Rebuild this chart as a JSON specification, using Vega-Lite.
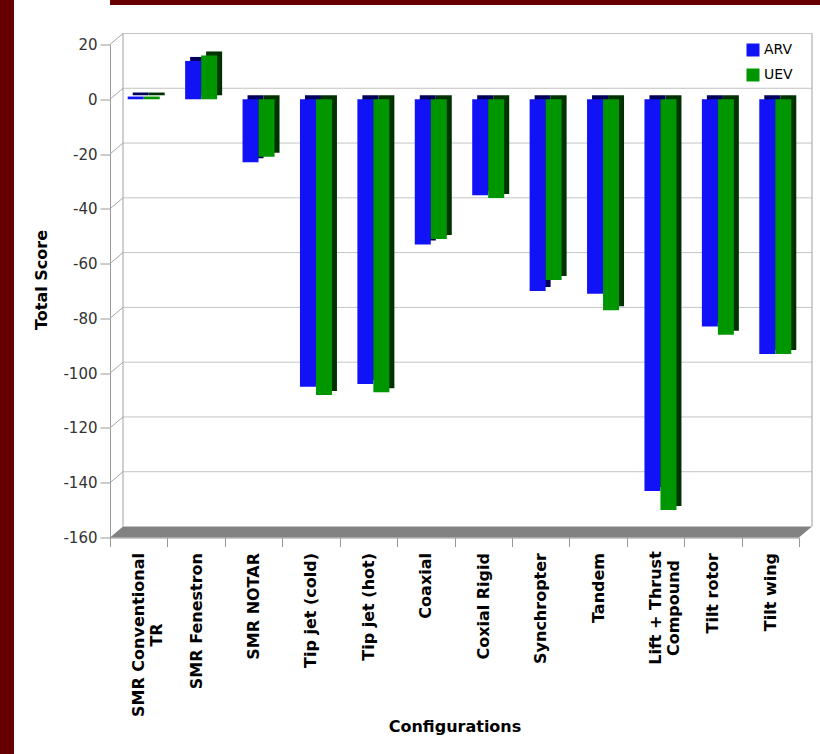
{
  "$schema": "https://vega.github.io/schema/vega-lite/v6.json",
  "background": "white",
  "padding": 0,
  "spacing": 19,
  "config": {"view": {"stroke": null}, "font": "DejaVu Sans"},
  "hconcat": [
    {
      "width": 14, "height": 754,
      "view": {"fill": "#660000", "stroke": null},
      "data": {"values": [{"a": 1}]},
      "mark": {"type": "rect", "opacity": 0},
      "encoding": {}
    },
    {
      "spacing": 27.5,
      "vconcat": [
        {
          "width": 720, "height": 5,
          "view": {"fill": "#660000", "stroke": null},
          "data": {"values": [{"a": 1}]},
          "mark": {"type": "rect", "opacity": 0},
          "encoding": {}
        },
        {
          "width": 689, "height": 493,
          "resolve": {"scale": {"x": "independent"}},
          "layer": [
            {
              "data": {"values": [{"g": 20}, {"g": 0}, {"g": -20}, {"g": -40}, {"g": -60}, {"g": -80}, {"g": -100}, {"g": -120}, {"g": -140}]},
              "layer": [
                {
                  "mark": {"type": "rule", "color": "#c4c4c4", "strokeWidth": 1, "xOffset": 13, "x2Offset": 13, "yOffset": -11},
                  "encoding": {
                    "x": {"datum": 0, "type": "quantitative", "scale": {"domain": [0, 1], "nice": false, "zero": false}, "axis": null},
                    "x2": {"datum": 1},
                    "y": {"field": "g", "type": "quantitative", "title": "Total Score", "scale": {"domain": [-160, 20], "nice": false}}
                  }
                },
                {
                  "mark": {"type": "rule", "color": "#a8a8a8", "strokeWidth": 1, "x2Offset": 13, "y2Offset": -11},
                  "encoding": {
                    "x": {"datum": 0, "type": "quantitative", "scale": {"domain": [0, 1], "nice": false, "zero": false}, "axis": null},
                    "x2": {"datum": 0},
                    "y": {"field": "g", "type": "quantitative", "title": "Total Score", "scale": {"domain": [-160, 20], "nice": false}},
                    "y2": {"field": "g"}
                  }
                }
              ]
            },
            {
              "data": {"values": [{"e": 0}, {"e": 1}]},
              "mark": {"type": "rule", "color": "#a0a0a0", "strokeWidth": 1, "xOffset": 13, "yOffset": -11, "y2Offset": -11},
              "encoding": {
                "x": {"field": "e", "type": "quantitative", "scale": {"domain": [0, 1], "nice": false, "zero": false}, "axis": null},
                "y": {"datum": 20, "type": "quantitative", "title": "Total Score", "scale": {"domain": [-160, 20], "nice": false}},
                "y2": {"datum": -160}
              }
            },
            {
              "data": {"values": [{"f": 1}]},
              "mark": {"type": "point", "shape": "M-1,0.01567L-0.963,-0.01567L1,-0.01567L0.963,0.01567Z", "size": 492804, "filled": true, "color": "#828282", "opacity": 1, "strokeWidth": 0, "xOffset": 6.5, "yOffset": -5.5},
              "encoding": {
                "x": {"datum": 0.5, "type": "quantitative", "scale": {"domain": [0, 1], "nice": false, "zero": false}, "axis": null},
                "y": {"datum": -160, "type": "quantitative", "title": "Total Score", "scale": {"domain": [-160, 20], "nice": false}}
              }
            },
            {
              "data": {"values": [
                {"Configuration": "SMR Conventional TR", "Series": "ARV", "Score": 1},
                {"Configuration": "SMR Conventional TR", "Series": "UEV", "Score": 1},
                {"Configuration": "SMR Fenestron", "Series": "ARV", "Score": 14},
                {"Configuration": "SMR Fenestron", "Series": "UEV", "Score": 16},
                {"Configuration": "SMR NOTAR", "Series": "ARV", "Score": -23},
                {"Configuration": "SMR NOTAR", "Series": "UEV", "Score": -21},
                {"Configuration": "Tip jet (cold)", "Series": "ARV", "Score": -105},
                {"Configuration": "Tip jet (cold)", "Series": "UEV", "Score": -108},
                {"Configuration": "Tip jet (hot)", "Series": "ARV", "Score": -104},
                {"Configuration": "Tip jet (hot)", "Series": "UEV", "Score": -107},
                {"Configuration": "Coaxial", "Series": "ARV", "Score": -53},
                {"Configuration": "Coaxial", "Series": "UEV", "Score": -51},
                {"Configuration": "Coxial Rigid", "Series": "ARV", "Score": -35},
                {"Configuration": "Coxial Rigid", "Series": "UEV", "Score": -36},
                {"Configuration": "Synchropter", "Series": "ARV", "Score": -70},
                {"Configuration": "Synchropter", "Series": "UEV", "Score": -66},
                {"Configuration": "Tandem", "Series": "ARV", "Score": -71},
                {"Configuration": "Tandem", "Series": "UEV", "Score": -77},
                {"Configuration": "Lift + Thrust Compound", "Series": "ARV", "Score": -143},
                {"Configuration": "Lift + Thrust Compound", "Series": "UEV", "Score": -150},
                {"Configuration": "Tilt rotor", "Series": "ARV", "Score": -83},
                {"Configuration": "Tilt rotor", "Series": "UEV", "Score": -86},
                {"Configuration": "Tilt wing", "Series": "ARV", "Score": -93},
                {"Configuration": "Tilt wing", "Series": "UEV", "Score": -93}
              ]},
              "layer": [
                {
                  "transform": [{"filter": "datum.Series === 'ARV'"}],
                  "mark": {"type": "bar", "width": 16, "xOffset": 2, "yOffset": -4, "y2Offset": -4, "strokeWidth": 0, "color": "#00005c"},
                  "encoding": {
                    "x": {"field": "Configuration", "type": "nominal", "sort": null, "scale": {"paddingInner": 0, "paddingOuter": 0}},
                    "y": {"field": "Score", "type": "quantitative", "title": "Total Score", "scale": {"domain": [-160, 20], "nice": false}}
                  }
                },
                {
                  "transform": [{"filter": "datum.Series === 'ARV'"}],
                  "mark": {"type": "bar", "width": 16, "xOffset": -3, "strokeWidth": 0},
                  "encoding": {
                    "x": {
                      "field": "Configuration", "type": "nominal", "sort": null,
                      "scale": {"paddingInner": 0, "paddingOuter": 0},
                      "axis": {
                        "title": "Configurations", "titleFontSize": 16, "titleFontWeight": "bold", "titleColor": "#000", "titlePadding": 2,
                        "labelAngle": -90, "labelFontSize": 16, "labelFontWeight": "bold", "labelColor": "#000",
                        "labelBaseline": "middle",
                        "labelAlign": {"condition": {"test": "datum.value === 'SMR Conventional TR' || datum.value === 'Lift + Thrust Compound'", "value": "center"}, "value": "right"},
                        "labelPadding": {"condition": [{"test": "datum.value === 'SMR Conventional TR'", "value": 88}, {"test": "datum.value === 'Lift + Thrust Compound'", "value": 61}], "value": 6},
                        "labelExpr": "datum.value === 'SMR Conventional TR' ? ['SMR Conventional', 'TR'] : datum.value === 'Lift + Thrust Compound' ? ['Lift + Thrust', 'Compound'] : datum.label",
                        "tickBand": "extent", "tickSize": 9, "tickColor": "#999", "domainColor": "#999"
                      }
                    },
                    "y": {
                      "field": "Score", "type": "quantitative", "title": "Total Score",
                      "scale": {"domain": [-160, 20], "nice": false},
                      "axis": {
                        "values": [20, 0, -20, -40, -60, -80, -100, -120, -140, -160],
                        "labelExpr": "'' + datum.value", "labelFontSize": 15, "labelColor": "#333",
                        "labelPadding": 3, "tickSize": 10, "tickColor": "#999", "domainColor": "#999", "grid": false,
                        "titleFontSize": 16, "titleFontWeight": "bold", "titleColor": "#000", "titlePadding": 13, "titleY": 235
                      }
                    },
                    "color": {
                      "field": "Series", "type": "nominal",
                      "scale": {"domain": ["ARV", "UEV"], "range": ["#1212f6", "#009600"]},
                      "legend": {"title": null, "orient": "none", "legendX": 746, "legendY": 43, "symbolType": "square", "symbolSize": 169, "symbolStrokeWidth": 0, "labelFontSize": 14, "labelColor": "#000", "rowPadding": 11, "padding": 0, "labelOffset": 4}
                    }
                  }
                },
                {
                  "transform": [{"filter": "datum.Series === 'UEV'"}],
                  "mark": {"type": "bar", "width": 16, "xOffset": 18, "yOffset": -4, "y2Offset": -4, "strokeWidth": 0, "color": "#003200"},
                  "encoding": {
                    "x": {"field": "Configuration", "type": "nominal", "sort": null, "scale": {"paddingInner": 0, "paddingOuter": 0}},
                    "y": {"field": "Score", "type": "quantitative", "title": "Total Score", "scale": {"domain": [-160, 20], "nice": false}}
                  }
                },
                {
                  "transform": [{"filter": "datum.Series === 'UEV'"}],
                  "mark": {"type": "bar", "width": 16, "xOffset": 13, "strokeWidth": 0},
                  "encoding": {
                    "x": {"field": "Configuration", "type": "nominal", "sort": null, "scale": {"paddingInner": 0, "paddingOuter": 0}},
                    "y": {"field": "Score", "type": "quantitative", "title": "Total Score", "scale": {"domain": [-160, 20], "nice": false}},
                    "color": {"field": "Series", "type": "nominal", "scale": {"domain": ["ARV", "UEV"], "range": ["#1212f6", "#009600"]}}
                  }
                }
              ]
            }
          ]
        }
      ]
    }
  ]
}
